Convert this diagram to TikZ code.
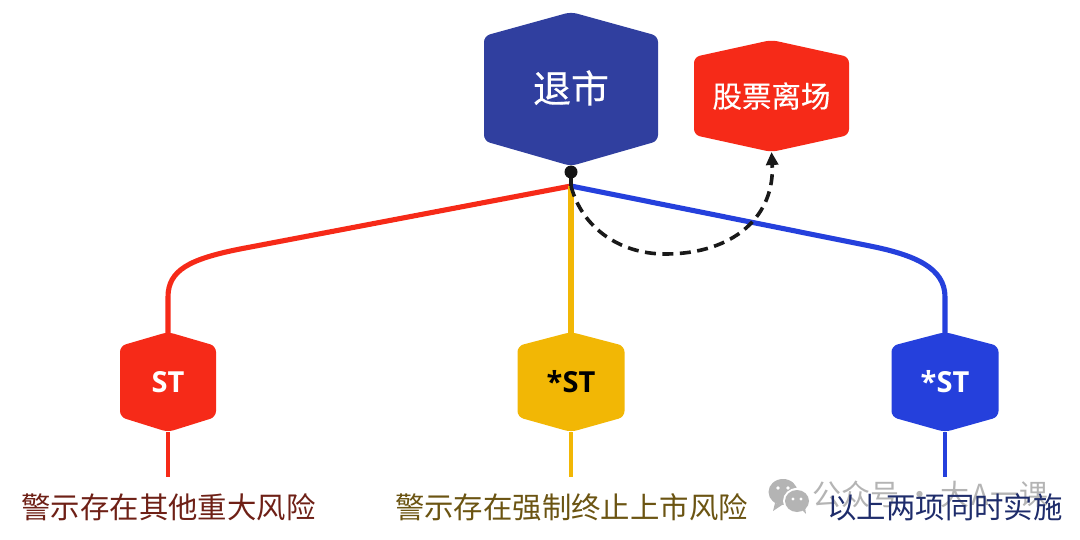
\documentclass[tikz,border=0pt]{standalone}
\usepackage{fontspec}
\newfontfamily\cjk{Noto Sans CJK SC}
\newfontfamily\cjkm[FakeBold=0.4]{Noto Sans CJK SC}
\newfontfamily\latinbold{Open Sans}
\usetikzlibrary{arrows.meta,calc}
\definecolor{navy}{HTML}{303F9F}
\definecolor{hotred}{HTML}{F62A18}
\definecolor{amber}{HTML}{F2B705}
\definecolor{royal}{HTML}{2540DC}
\definecolor{txtred}{HTML}{6E2016}
\definecolor{txtolive}{HTML}{6B5412}
\definecolor{txtnavy}{HTML}{1E2C6B}
\definecolor{wm}{HTML}{B4B4B4}
\tikzset{
  x=1pt,y=-1pt,
  link/.style={line width=5.1pt},
  stub/.style={line width=3.6pt},
  caption/.style={font=\cjk\fontsize{29.4}{33}\selectfont,inner sep=0pt,anchor=center},
  hexlabel/.style={text=white,inner sep=0pt,anchor=center},
  marklabel/.style={font=\cjk\fontsize{29}{33}\selectfont,text=wm,inner sep=0pt,anchor=center},
}
% \hexa{name}{cx}{top}{shoulder top}{shoulder bottom}{bottom}{half width}{colour}{radius}
\newcommand{\hexa}[9]{%
  \fill[#8,rounded corners=#9pt] (#2,#3) -- (#2+#7,#4) -- (#2+#7,#5) -- (#2,#6) -- (#2-#7,#5) -- (#2-#7,#4) -- cycle;
  \coordinate (#1-top) at (#2,#3);
  \coordinate (#1-bot) at (#2,#6);
}
\begin{document}
\begin{tikzpicture}
\useasboundingbox (0,0) rectangle (1080,540);
% coordinates
\coordinate (hub) at (571,186);
\coordinate (dot) at (571,172);
\coordinate (redend) at (168,477);
\coordinate (ambend) at (571,477);
\coordinate (bluend) at (945,477);
\coordinate (redbend) at (168,297);
\coordinate (blubend) at (945,297);
\coordinate (arc-mid) at (665,254);
% connectors first
\draw[link,hotred] (hub) -- (240,249) .. controls (190,259) and (168,270) .. (redbend) -- (168,334);
\draw[link,amber] (hub) -- (571,334);
\draw[link,royal] (hub) -- (870,246) .. controls (915,255) and (945,268) .. (blubend) -- (945,334);
\hexa{main}{571}{12}{36}{141}{166}{87}{navy}{6}
\hexa{exit}{771.5}{40}{57}{135}{152}{77.5}{hotred}{6}
\hexa{st}{168}{332}{346}{417}{432}{48}{hotred}{6}
\hexa{sta}{571}{332}{346}{417}{432}{53.5}{amber}{6}
\hexa{stb}{945}{332}{346}{417}{432}{53.5}{royal}{6}
\node[hexlabel,font=\cjkm\fontsize{38}{42}\selectfont] (tuishi) at (571,88) {退市};
\node[hexlabel,font=\cjkm\fontsize{29.5}{33}\selectfont] (lichang) at (771.5,96) {股票离场};
\node[hexlabel,font=\latinbold\bfseries\fontsize{29}{34}\selectfont] (lst) at (168,382) {ST};
\node[inner sep=0pt,text=black,font=\latinbold\bfseries\fontsize{29}{34}\selectfont] (lsta) at (571,382) {*ST};
\node[hexlabel,font=\latinbold\bfseries\fontsize{29}{34}\selectfont] (lstb) at (945,382) {*ST};
\draw[stub,hotred] (st-bot) -- (redend);
\draw[stub,amber] (sta-bot) -- (ambend);
\draw[stub,royal] (stb-bot) -- (bluend);
\draw[line width=3.6pt,black!90] (dot) -- (hub);
\fill[black!92] (dot) circle (6.5);
\draw[line width=3.6pt,black!90,dash pattern=on 11pt off 6.5pt,-{Triangle[length=13pt,width=12pt]}]
  (hub) .. controls (582,228) and (620,254) .. (arc-mid) .. controls (735,254) and (775,215) .. (exit-bot);
% watermark
\fill[wm] (783,492) ellipse (14.5 and 13);
\fill[wm] (775,503) -- (773,511) -- (782,505) -- cycle;
\fill[white] (797,501) ellipse (14 and 13);
\fill[wm] (797,501) ellipse (12 and 11);
\fill[wm] (801,509) -- (806,514) -- (805,507) -- cycle;
\fill[white] (778,488) circle (1.9) (788,488) circle (1.9) (793,499) circle (1.6) (801,499) circle (1.6);
\node[marklabel] (mark) at (930.5,494) {公众号\hspace{6pt}·\hspace{6pt}大\hspace{2pt}A\hspace{1pt}一\hspace{0pt}课};
\node[caption,text=txtred] (c1) at (168.5,507) {警示存在其他重大风险};
\node[caption,text=txtolive] (c2) at (571.5,507) {警示存在强制终止上市风险};
\node[caption,text=txtnavy] (c3) at (945,507) {以上两项同时实施};
\end{tikzpicture}
\end{document}
